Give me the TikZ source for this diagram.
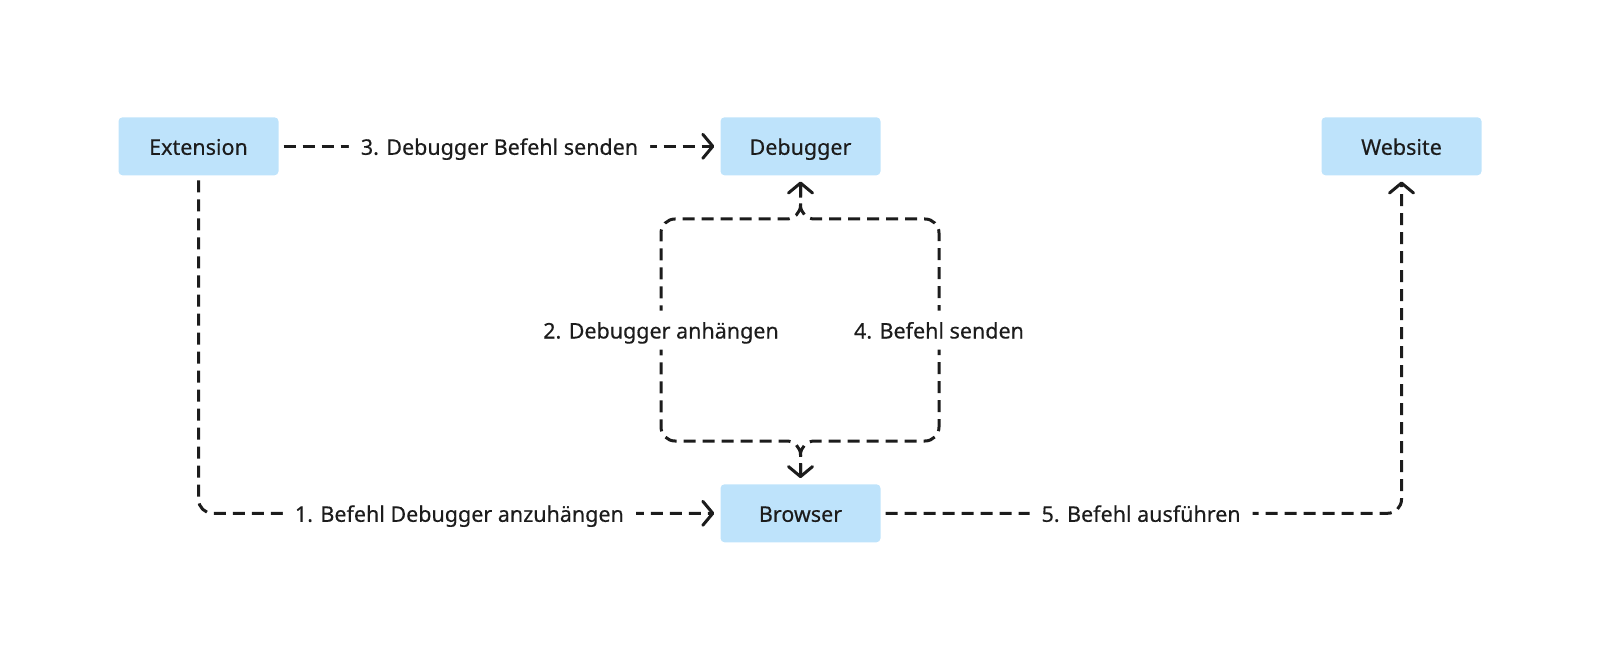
\documentclass[tikz,border=0pt]{standalone}
\usepackage{fontspec}
\setmainfont{Noto Sans}
\newfontfamily\diafont{Noto Sans}[FakeBold=0.35]
\usetikzlibrary{arrows.meta,calc}
\definecolor{boxblue}{HTML}{BEE3FB}
\definecolor{ink}{HTML}{1C1C1C}
\begin{document}
\begin{tikzpicture}[x=1pt,y=-1pt,
  txt/.style={text=ink, font=\diafont\fontsize{21.5}{24}\selectfont, text height=20pt, text depth=3pt},
  box/.style={txt, fill=boxblue, rounded corners=4pt, minimum width=160pt, minimum height=58pt, inner sep=0pt},
  flow/.style={draw=ink, line width=3pt, dash pattern=on 12pt off 7pt, rounded corners=14pt, -{Straight Barb[length=10pt,width=24pt,round]}, shorten >=6pt, shorten <=5pt},
  lbl/.style={txt, fill=white, inner xsep=12pt, inner ysep=8pt}]
\useasboundingbox (0,0) rectangle (1600,660);
\node[box] (ext) at (198.5,146.3) {Extension};
\node[box] (dbg) at (800.5,146.3) {Debugger};
\node[box] (web) at (1401.5,146.3) {Website};
\node[box] (brw) at (800.5,513.3) {Browser};
\coordinate (lb) at (661,441);
\coordinate (lt) at (661,219);
\coordinate (rb) at (939,441);
\coordinate (rt) at (939,219);
\draw[flow] (ext.east) -- node[lbl]{3. Debugger Befehl senden} (dbg.west);
\draw[flow] (ext.south) |- node[lbl,pos=0.75]{1. Befehl Debugger anzuhängen} (brw.west);
\draw[flow] (brw.east) -| node[lbl,pos=0.25]{5. Befehl ausführen} (web.south);
\draw[flow, shorten <=9pt] (brw.north) -- (brw.north |- lb) -- (lb) -- node[lbl]{2. Debugger anhängen} (lt) -- (lt -| dbg.south) -- (dbg.south);
\draw[flow, shorten <=9pt] (dbg.south) -- (dbg.south |- rt) -- (rt) -- node[lbl]{4. Befehl senden} (rb) -- (rb -| brw.north) -- (brw.north);
\end{tikzpicture}
\end{document}
